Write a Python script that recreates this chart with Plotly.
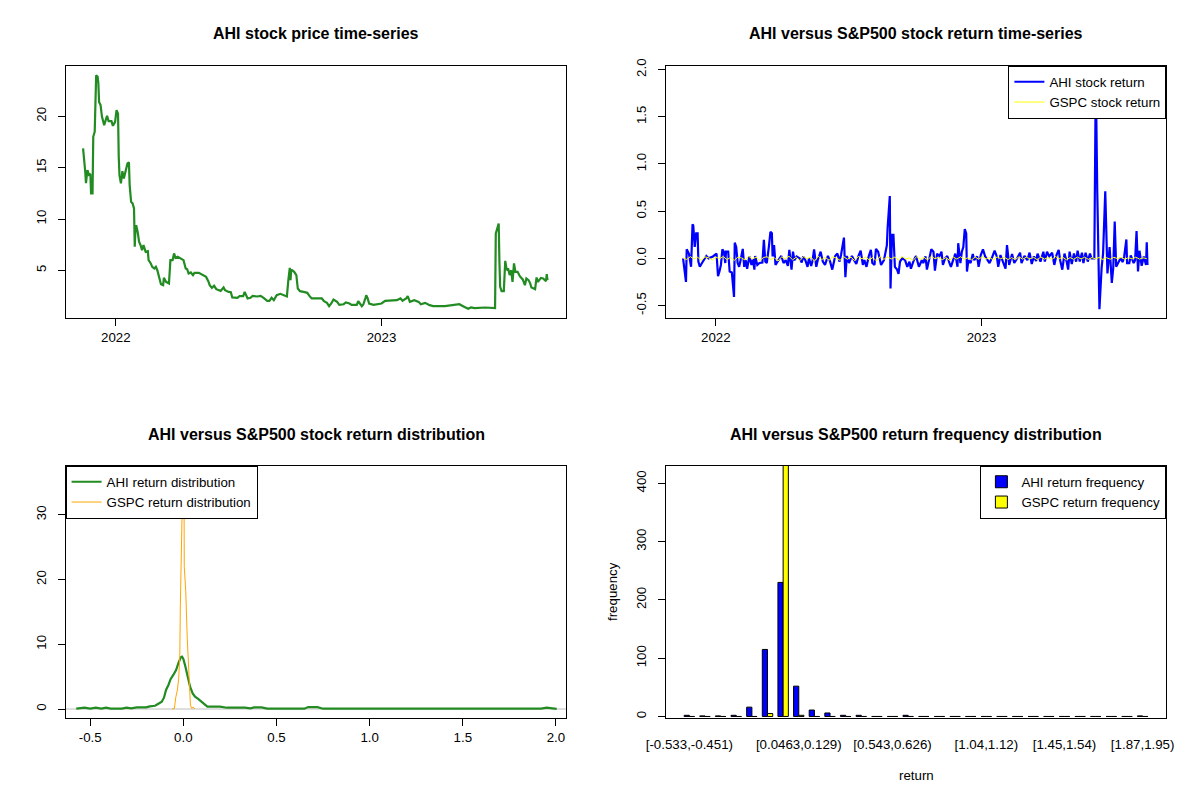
import pandas as pd
import plotly.graph_objects as go
from plotly.subplots import make_subplots

# AHI closing price (days counted from 1 Jan 2022)
price_day = [-45, -43, -42, -41, -39, -37, -35, -34, -32, -31, -30, -29, -28, -27, -25, -24, -23, -21, -19, -16,
             -14, -12, -10, -6, -4, -1, 1, 3, 4, 5, 7, 9, 11, 13, 16, 18, 19, 21, 23, 25,
             26, 27, 28, 30, 32, 34, 36, 38, 41, 44, 45, 48, 50, 53, 55, 57, 60, 62, 65, 66,
             69, 73, 75, 78, 80, 82, 85, 87, 90, 93, 96, 98, 100, 103, 106, 108, 114, 118, 121, 124,
             127, 129, 132, 135, 138, 141, 144, 148, 150, 155, 158, 160, 164, 167, 170, 175, 177, 179, 181, 185,
             188, 194, 199, 203, 208, 211, 214, 217, 221, 226, 230, 235, 237, 239, 240, 241, 245, 248, 250, 253,
             258, 263, 266, 269, 283, 286, 290, 293, 296, 299, 304, 307, 313, 316, 321, 324, 331, 333, 338, 340,
             343, 344, 346, 348, 354, 362, 365, 370, 376, 381, 386, 391, 394, 397, 399, 401, 404, 410, 416, 419,
             425, 431, 436, 452, 466, 472, 477, 484, 488, 493, 507, 521, 522, 524, 526, 527, 528, 530, 533, 535,
             537, 539, 541, 543, 545, 547, 549, 552, 555, 559, 562, 564, 567, 569, 571, 576, 578, 580, 584, 587,
             591, 592, 593]
ahi_price = [16.87, 15.57, 14.6, 13.5, 14.76, 14.3, 14.4, 12.5, 12.5, 18.0, 18.5, 18.5, 21.26, 24.0, 23.85, 23.2, 21.4, 21.1, 19.95, 19.14,
             19.6, 20.05, 19.53, 19.53, 19.07, 19.46, 20.6, 20.28, 16.06, 14.27, 13.47, 14.66, 13.95, 14.66, 15.41, 15.51, 13.3, 11.67, 11.52, 11.03,
             7.3, 9.08, 9.4, 8.75, 7.78, 7.46, 6.97, 7.46, 6.8, 6.87, 6.0, 5.68, 5.35, 5.19, 5.35, 5.02, 4.05, 3.66, 3.56, 4.27,
             3.89, 3.73, 6.0, 6.0, 6.65, 6.22, 6.32, 6.22, 6.07, 6.0, 5.19, 5.12, 4.7, 4.8, 4.54, 4.76, 4.76, 4.63, 4.47, 4.37,
             3.95, 3.56, 3.3, 3.5, 3.17, 3.08, 3.01, 3.34, 3.08, 2.91, 2.88, 2.37, 2.37, 2.33, 2.49, 2.49, 2.91, 2.49, 2.27, 2.33,
             2.52, 2.46, 2.52, 2.33, 2.04, 2.04, 2.33, 2.1, 2.59, 2.72, 2.59, 2.46, 4.05, 5.25, 4.05, 5.09, 4.86, 4.54, 3.24, 2.98,
             2.91, 2.82, 2.52, 2.27, 2.27, 2.0, 1.84, 1.52, 1.78, 2.17, 1.94, 1.65, 1.71, 1.88, 1.78, 1.65, 1.65, 2.0, 1.52, 1.68,
             2.33, 2.59, 2.27, 1.78, 1.65, 1.71, 1.78, 2.04, 2.04, 2.1, 2.1, 2.27, 2.04, 2.2, 2.27, 2.49, 1.94, 2.1, 1.94, 1.71,
             1.84, 1.62, 1.52, 1.52, 1.68, 1.71, 1.52, 1.26, 1.39, 1.33, 1.39, 1.33, 8.6, 9.08, 9.57, 5.83, 3.4, 2.98, 2.98, 5.93,
             5.02, 5.19, 4.54, 5.02, 3.89, 5.68, 4.86, 4.86, 4.44, 4.12, 3.56, 4.22, 4.05, 3.79, 3.34, 3.17, 4.31, 3.89, 4.27, 4.22,
             3.95, 4.63, 4.05]

# AHI daily return (days from 1 Jan 2022)
ret_day = [-45, -43, -41, -40, -37, -34, -32, -31, -29, -27,
           -25, -24, -22, -19, -13, -10, -4, 1, 3, 5,
           7, 9, 11, 13, 14, 17, 19, 22, 25, 26,
           28, 30, 32, 34, 37, 39, 41, 43, 46, 49,
           51, 53, 54, 57, 60, 64, 66, 68, 70, 73,
           75, 77, 78, 80, 82, 86, 90, 93, 96, 99,
           101, 104, 106, 108, 111, 115, 118, 120, 123, 126,
           128, 131, 133, 135, 138, 140, 144, 147, 150, 154,
           157, 160, 164, 167, 170, 172, 176, 178, 180, 183,
           187, 190, 193, 196, 199, 202, 204, 207, 210, 213,
           215, 218, 220, 223, 225, 227, 231, 235, 236, 239,
           240, 242, 244, 245, 246, 249, 251, 253, 256, 260,
           263, 266, 268, 272, 275, 279, 283, 285, 288, 290,
           293, 296, 299, 301, 304, 307, 310, 312, 315, 318,
           321, 323, 326, 329, 332, 333, 336, 338, 340, 342,
           344, 345, 347, 350, 353, 355, 359, 361, 364, 367,
           370, 373, 376, 379, 383, 386, 388, 391, 394, 398,
           400, 403, 407, 410, 414, 418, 420, 424, 428, 431,
           434, 437, 440, 442, 446, 450, 452, 455, 458, 462,
           465, 468, 471, 473, 476, 479, 482, 484, 486, 489,
           492, 495, 497, 500, 503, 505, 508, 511, 514, 516,
           520, 522, 524, 526, 527, 530, 532, 535, 537, 538,
           541, 544, 546, 548, 550, 553, 556, 559, 561, 564,
           565, 568, 570, 574, 576, 578, 580, 582, 585, 588,
           591, 592, 593]
ahi_ret = [0.0, -0.16, -0.25, 0.095, 0.05, -0.09, 0.36, 0.35, 0.12, 0.265,
           0.265, -0.035, -0.09, -0.05, 0.025, 0.0, 0.02, 0.05, -0.19, -0.14,
           -0.07, 0.095, 0.07, -0.05, 0.07, 0.07, -0.14, -0.15, -0.41, 0.166,
           0.12, -0.05, -0.09, -0.02, 0.10, -0.09, -0.02, -0.11, 0.02, -0.07,
           -0.01, -0.12, 0.025, -0.07, -0.05, -0.045, 0.195, -0.035, -0.05, 0.13,
           0.28, 0.265, 0.02, 0.14, -0.07, -0.02, 0.025, -0.05, -0.02, -0.08,
           0.09, -0.12, 0.07, -0.02, 0.02, 0.0, -0.045, 0.02, -0.02, -0.09,
           0.0, -0.08, -0.02, 0.095, -0.09, -0.02, 0.07, -0.035, -0.07, 0.025,
           -0.035, -0.12, 0.025, 0.05, -0.035, 0.035, 0.22, -0.2, 0.025, -0.05,
           0.025, -0.02, -0.06, 0.025, 0.08, -0.07, -0.02, -0.09, 0.02, 0.09,
           -0.05, -0.07, 0.10, 0.07, -0.02, -0.07, -0.02, 0.14, 0.32, 0.66,
           -0.32, 0.25, 0.25, 0.12, -0.09, -0.12, -0.165, -0.035, 0.0, -0.02,
           -0.09, -0.035, -0.11, -0.02, 0.025, -0.09, -0.02, -0.05, 0.02, -0.12,
           -0.02, 0.095, 0.07, -0.13, 0.05, 0.02, 0.07, -0.07, 0.0, 0.025,
           -0.05, -0.09, -0.02, 0.05, -0.09, 0.16, -0.05, 0.07, 0.12, 0.31,
           0.265, -0.14, -0.02, -0.05, 0.045, -0.02, 0.02, -0.09, 0.035, 0.095,
           0.02, -0.02, -0.05, 0.0, 0.08, 0.02, -0.09, 0.035, -0.02, -0.11,
           0.14, -0.07, 0.045, -0.05, 0.0, 0.06, -0.05, 0.025, -0.02, 0.06,
           -0.06, 0.02, -0.03, 0.05, -0.035, 0.07, -0.035, 0.07, 0.02, 0.06,
           -0.07, 0.035, 0.09, -0.02, -0.12, 0.05, -0.035, -0.12, 0.07, -0.06,
           0.05, -0.035, 0.08, -0.035, 0.06, -0.05, 0.06, -0.035, 0.05, 0.0,
           0.0, 1.95, 0.71, -0.51, -0.54, -0.1, 0.05, 0.71, -0.12, -0.16,
           0.12, -0.26, -0.1, 0.39, -0.09, -0.05, 0.0, -0.04, 0.02, 0.2,
           -0.05, -0.05, 0.03, -0.05, -0.02, 0.29, -0.14, 0.08, -0.08, 0.02,
           -0.07, 0.17, -0.07]

# S&P500 return, small wiggles around zero
gspc_ret = [0.004, -0.012, 0.018, -0.008, 0.011, -0.021, 0.015, 0.006, -0.017, 0.013,
            -0.005, 0.019, -0.014, 0.009, -0.022, 0.012, 0.004, -0.018, 0.021, -0.009,
            0.014, -0.026, 0.008, 0.017, -0.013, 0.005, -0.029, 0.016, -0.007, 0.022,
            -0.016, 0.011, -0.024, 0.019, -0.004, 0.013, -0.031, 0.024, -0.012, 0.008,
            -0.019, 0.015, 0.003, -0.021, 0.017, -0.01, 0.012, -0.025, 0.02, -0.006,
            0.014, -0.018, 0.009, -0.03, 0.021, -0.011, 0.016, -0.007, 0.013, -0.02,
            0.018, -0.009, 0.005, -0.023, 0.019, -0.012, 0.01, -0.017, 0.022, -0.005,
            0.012, -0.015, 0.008, -0.021, 0.014, -0.008, 0.017, -0.011, 0.006, -0.016,
            0.013, -0.01, 0.019, -0.007, 0.009, -0.018, 0.015, -0.004, 0.011, -0.013,
            0.007, -0.014, 0.016, -0.009, 0.012, -0.006, 0.01, -0.015, 0.014, -0.008,
            0.009, -0.012, 0.018, -0.005, 0.011, -0.016, 0.007, -0.01, 0.013, -0.006,
            0.012, -0.011, 0.008, -0.007, 0.01, -0.013, 0.006, -0.009, 0.011, -0.004,
            0.009, -0.01, 0.007, -0.006, 0.012, -0.008, 0.005, -0.003]

# density estimates
ahi_dens_x = [-0.575, -0.53, -0.50, -0.47, -0.44, -0.415, -0.39, -0.33, -0.305, -0.28,
              -0.25, -0.20, -0.18, -0.152, -0.134, -0.116, -0.104, -0.093, -0.080, -0.068,
              -0.054, -0.039, -0.027, -0.014, -0.007, 0.0, 0.009, 0.018, 0.027, 0.036,
              0.05, 0.063, 0.081, 0.099, 0.116, 0.129, 0.197, 0.233, 0.33, 0.36,
              0.38, 0.42, 0.45, 0.65, 0.67, 0.72, 0.75, 1.92, 1.95, 1.98, 2.004]
ahi_dens_y = [0.05, 0.2, 0.05, 0.2, 0.05, 0.2, 0.05, 0.05, 0.2, 0.1,
              0.25, 0.25, 0.4, 0.5, 0.82, 1.13, 1.75, 2.94, 3.71, 4.64,
              5.26, 6.03, 7.06, 7.99, 8.09, 7.73, 6.8, 5.5, 4.33, 3.45,
              2.42, 1.9, 1.54, 1.13, 0.62, 0.36, 0.36, 0.2, 0.2, 0.1,
              0.25, 0.25, 0.05, 0.05, 0.3, 0.3, 0.05, 0.05, 0.2, 0.05, 0.02]
gspc_dens_x = [-0.06, -0.052, -0.048, -0.041, -0.032, -0.025, -0.019, -0.016, -0.011, -0.007, -0.003,
               0.001, 0.004, 0.005, 0.013, 0.021, 0.027, 0.032, 0.038, 0.045, 0.054, 0.061]
gspc_dens_y = [0.0, 0.05, 0.1, 1.75, 2.94, 4.74, 8.35, 16.1, 27.2, 32.0, 36.2,
               35.5, 31.0, 22.0, 18.1, 10.9, 6.3, 3.45, 0.62, 0.1, 0.3, 0.0]

# return frequency table
bins = ["[-0.533,-0.451)", "[-0.451,-0.368)", "[-0.368,-0.285)", "[-0.285,-0.202)", "[-0.202,-0.119)",
        "[-0.119,-0.0363)", "[-0.0363,0.0463)", "[0.0463,0.129)", "[0.129,0.212)", "[0.212,0.295)",
        "[0.295,0.378)", "[0.378,0.461)", "[0.461,0.543)", "[0.543,0.626)", "[0.626,0.709)",
        "[0.709,0.792)", "[0.792,0.875)", "[0.875,0.958)", "[0.958,1.04)", "[1.04,1.12)",
        "[1.12,1.21)", "[1.21,1.29)", "[1.29,1.37)", "[1.37,1.45)", "[1.45,1.54)",
        "[1.54,1.62)", "[1.62,1.7)", "[1.7,1.79)", "[1.79,1.87)", "[1.87,1.95)"]
ahi_freq = [2, 1, 1, 2, 16, 115, 230, 52, 11, 6, 2, 2, 0, 0, 2, 0, 0, 0, 0, 0, 0, 0, 0, 0, 0, 0, 0, 0, 0, 1]
gspc_freq = [0, 0, 0, 0, 0, 5, 432, 2, 0, 0, 0, 0, 0, 0, 0, 0, 0, 0, 0, 0, 0, 0, 0, 0, 0, 0, 0, 0, 0, 0]
shown_bins = [bins[0], bins[7], bins[13], bins[19], bins[24], bins[29]]

start = pd.Timestamp("2022-01-01")
price_dates = start + pd.to_timedelta(price_day, unit="D")
ret_dates = start + pd.to_timedelta(ret_day, unit="D")
gspc_dates = pd.date_range("2021-11-17", "2023-08-16", periods=len(gspc_ret))

FONT = "Liberation Sans"


# page pixel -> paper coordinates (the page body has an 8px margin)
def px(x):
    return (x - 8) / 1200


def py(y):
    return 1 - (y - 8) / 800


fig = make_subplots(rows=2, cols=2)

fig.add_trace(go.Scatter(x=price_dates, y=ahi_price, mode="lines", line=dict(color="#228B22", width=2.2),
                         showlegend=False), row=1, col=1)

fig.add_trace(go.Scatter(x=ret_dates, y=ahi_ret, mode="lines", line=dict(color="blue", width=2.2),
                         name="AHI stock return", legend="legend"), row=1, col=2)
fig.add_trace(go.Scatter(x=gspc_dates, y=gspc_ret, mode="lines", line=dict(color="yellow", width=1),
                         name="GSPC stock return", legend="legend"), row=1, col=2)

fig.add_trace(go.Scatter(x=ahi_dens_x, y=ahi_dens_y, mode="lines", line=dict(color="#228B22", width=2.2),
                         name="AHI return distribution", legend="legend2"), row=2, col=1)
fig.add_trace(go.Scatter(x=gspc_dens_x, y=gspc_dens_y, mode="lines", line=dict(color="orange", width=1),
                         name="GSPC return distribution", legend="legend2"), row=2, col=1)

fig.add_trace(go.Bar(x=bins, y=ahi_freq, marker=dict(color="blue", line=dict(color="black", width=1)),
                     name="AHI return frequency", legend="legend3"), row=2, col=2)
fig.add_trace(go.Bar(x=bins, y=gspc_freq, marker=dict(color="yellow", line=dict(color="black", width=1)),
                     name="GSPC return frequency", legend="legend3"), row=2, col=2)

# grey zero line of the density plot
fig.add_shape(type="line", xref="x3 domain", x0=0, x1=1, yref="y3", y0=0, y1=0,
              line=dict(color="#BEBEBE", width=1), layer="below")

axis_style = dict(showline=True, linecolor="black", linewidth=1, mirror=True, ticks="outside", ticklen=7,
                  tickcolor="black", showgrid=False, zeroline=False, automargin=False,
                  tickfont=dict(family=FONT, size=13.3, color="black"))
fig.update_xaxes(**axis_style)
fig.update_yaxes(**axis_style, tickangle=-90, ticklabelstandoff=6)

xl = [px(65.6), px(566.4)]
xr = [px(665.6), px(1166.4)]
yt = [py(318.4), py(65.6)]
yb = [py(718.4), py(465.6)]
fig.update_layout(
    xaxis=dict(domain=xl, type="date", range=["2021-10-24", "2023-09-12"],
               tickvals=["2022-01-01", "2023-01-01"], ticktext=["2022", "2023"]),
    yaxis=dict(domain=yt, range=[0.33, 24.93], tickvals=[5, 10, 15, 20]),
    xaxis2=dict(domain=xr, type="date", range=["2021-10-24", "2023-09-12"],
                tickvals=["2022-01-01", "2023-01-01"], ticktext=["2022", "2023"]),
    yaxis2=dict(domain=yt, range=[-0.637, 2.043], tickvals=[-0.5, 0, 0.5, 1, 1.5, 2],
                ticktext=["-0.5", "0.0", "0.5", "1.0", "1.5", "2.0"]),
    xaxis3=dict(domain=xl, range=[-0.632, 2.056], tickvals=[-0.5, 0, 0.5, 1, 1.5, 2],
                ticktext=["-0.5", "0.0", "0.5", "1.0", "1.5", "2.0"]),
    yaxis3=dict(domain=yb, range=[-1.45, 37.6], tickvals=[0, 10, 20, 30]),
    xaxis4=dict(domain=xr, type="category", range=[-1.52, 30.52], ticks="", ticklabelstandoff=14,
                tickvals=shown_bins, ticktext=shown_bins),
    yaxis4=dict(domain=yb, range=[-3.3, 430.4], tickvals=[0, 100, 200, 300, 400]),
    barmode="group", bargap=1 / 3, bargroupgap=0,
    width=1200, height=800, margin=dict(l=0, r=0, t=0, b=0),
    paper_bgcolor="white", plot_bgcolor="white",
    font=dict(family=FONT, size=13.3, color="black"),
)

legend_style = dict(bgcolor="white", bordercolor="black", borderwidth=1,
                    font=dict(family=FONT, size=13.3, color="black"), tracegroupgap=0)
fig.update_layout(
    legend=dict(x=px(1166.4), xanchor="right", y=py(65.6), yanchor="top", **legend_style),
    legend2=dict(x=px(65.6), xanchor="left", y=py(465.6), yanchor="top", **legend_style),
    legend3=dict(x=px(1166.4), xanchor="right", y=py(465.6), yanchor="top", **legend_style),
)

titles = [("AHI stock price time-series", 316, 34),
          ("AHI versus S&amp;P500 stock return time-series", 916, 34),
          ("AHI versus S&amp;P500 stock return distribution", 316, 434),
          ("AHI versus S&amp;P500 return frequency distribution", 916, 434)]
for text, x, y in titles:
    fig.add_annotation(text="<b>" + text + "</b>", x=px(x), y=py(y), xref="paper", yref="paper",
                       showarrow=False, xanchor="center", yanchor="middle",
                       font=dict(family=FONT, size=16, color="black"))

fig.add_annotation(text="return", x=px(916), y=py(775), xref="paper", yref="paper", showarrow=False,
                   xanchor="center", yanchor="middle", font=dict(family=FONT, size=13.3, color="black"))
fig.add_annotation(text="frequency", x=px(612), y=py(592), xref="paper", yref="paper", showarrow=False,
                   xanchor="center", yanchor="middle", textangle=-90,
                   font=dict(family=FONT, size=13.3, color="black"))

fig.write_html("out.html")
